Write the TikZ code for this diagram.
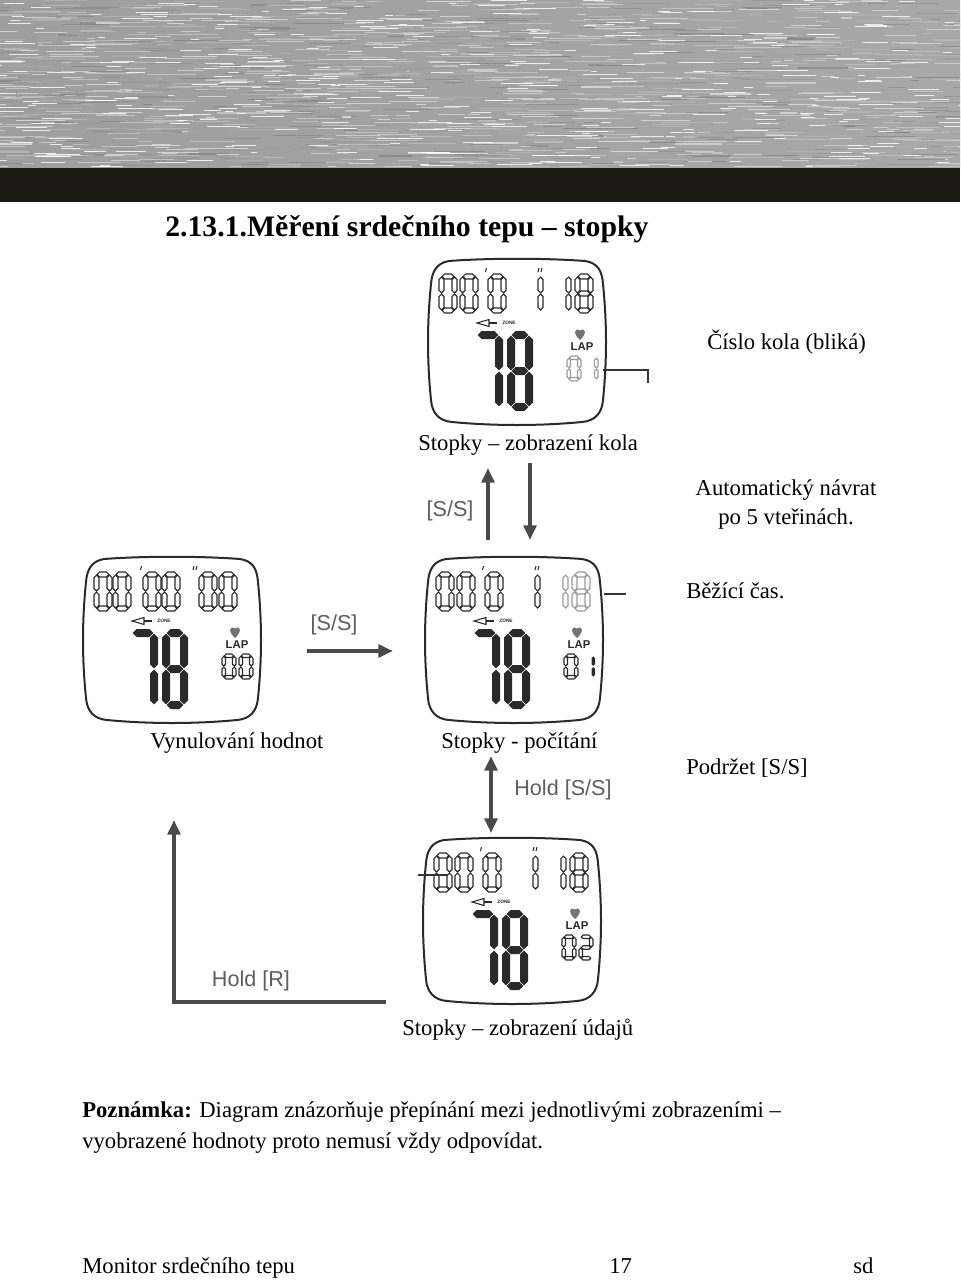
\documentclass[tikz,border=0pt]{standalone}
\usepackage{fontspec}
\setmainfont{Liberation Serif}
\newfontfamily\arialf{Liberation Sans}
\usetikzlibrary{arrows.meta}
\definecolor{arrgray}{HTML}{4A4A4A}
\definecolor{lblgray}{HTML}{5E5E5E}
\definecolor{barblack}{HTML}{1D1915}
\definecolor{lcd}{HTML}{2A2A2A}
\definecolor{lcdlight}{HTML}{9A9A9A}
\definecolor{ptr}{HTML}{333333}

% seven-segment helpers
\newcommand{\hsg}[1]{\path[segst] ({\dA+\dG},{#1}) -- ({2*\dA+\dG},{#1-\dA}) -- ({\dW-2*\dA-\dG},{#1-\dA}) -- ({\dW-\dA-\dG},{#1}) -- ({\dW-2*\dA-\dG},{#1+\dA}) -- ({2*\dA+\dG},{#1+\dA}) -- cycle;}
\newcommand{\vsg}[3]{\path[segst] ({#1},{#2+\dG}) -- ({#1+\dA},{#2+\dA+\dG}) -- ({#1+\dA},{#3-\dA-\dG}) -- ({#1},{#3-\dG}) -- ({#1-\dA},{#3-\dA-\dG}) -- ({#1-\dA},{#2+\dA+\dG}) -- cycle;}
\def\lcdsega{\hsg{\dA}}
\def\lcdsegb{\vsg{\dW-\dA}{\dA}{\dH/2}}
\def\lcdsegc{\vsg{\dW-\dA}{\dH/2}{\dH-\dA}}
\def\lcdsegd{\hsg{\dH-\dA}}
\def\lcdsege{\vsg{\dA}{\dH/2}{\dH-\dA}}
\def\lcdsegf{\vsg{\dA}{\dA}{\dH/2}}
\def\lcdsegg{\hsg{\dH/2}}
\newcommand{\lcddigit}[7]{%
  \begin{scope}[shift={(#1,#2)}]
    \def\dW{#3}\def\dH{#4}\pgfmathsetmacro\dA{#5/2}\def\dG{0.6}%
    \tikzset{segst/.style={#7}}%
    \foreach \s in {#6}{\csname lcdseg\s\endcsname}%
  \end{scope}}

% watch body: x, y, name, extra content
\newcommand{\watch}[4]{%
  \begin{scope}[shift={(#1,#2)}]
    \draw[line width=1.5pt, lcd] (20,2) .. controls (60,-1) and (116,-1) .. (156,2)
      .. controls (169,4) and (173,12) .. (174,25)
      .. controls (178,65) and (178,101) .. (174,141)
      .. controls (173,154) and (166,162) .. (153,163)
      .. controls (111,167) and (65,167) .. (23,163)
      .. controls (10,162) and (3,154) .. (2,141)
      .. controls (-2,101) and (-2,65) .. (2,25)
      .. controls (3,12) and (8,4) .. (20,2) -- cycle;
    \node[inner sep=0, minimum width=130pt, minimum height=122pt] (#3) at (88,83) {};
    \draw[lcd, line width=0.8pt] (48,64) -- (60,60.5) -- (60,67.5) -- cycle;
    \draw[lcd, line width=1.2pt] (60,64) -- (68,64);
    \node[font=\arialf\bfseries\fontsize{3.6}{4}\selectfont, text=lcd, inner sep=0] (#3zone) at (80,64) {ZONE};
    \draw[lcd, line width=0.8pt] (57.5,9) -- (56.5,13);
    \draw[lcd, line width=0.8pt] (110,9) -- (109,13) (113,9) -- (112,13);
    \lcddigit{44}{72}{30}{80}{8}{a,b,c}{segfill}
    \lcddigit{78}{72}{26}{80}{8}{a,b,c,d,e,f,g}{segfill}
    \fill[black!55] (151,81) .. controls (144,75) and (145,68) .. (151,71.5)
      .. controls (157,68) and (158,75) .. (151,81) -- cycle;
    \node[font=\arialf\bfseries\fontsize{8.5}{9}\selectfont, text=lcd, inner sep=0] (#3lap) at (153,88) {LAP};
    #4
  \end{scope}}

\tikzset{
  segout/.style={draw=lcd, fill=white, line width=0.9pt},
  seglight/.style={draw=lcdlight, fill=white, line width=0.9pt},
  segfill/.style={fill=lcd},
  body/.style={anchor=base west, inner sep=0, font=\fontsize{17}{21}\selectfont},
  sanslbl/.style={inner sep=0, text=lblgray, font=\arialf\fontsize{16.2}{19}\selectfont},
  arr/.style={draw=arrgray, line width=3pt, -{Triangle[length=11pt, width=9.5pt]}},
  darr/.style={draw=arrgray, line width=3pt, {Triangle[length=11pt, width=9.5pt]}-{Triangle[length=11pt, width=9.5pt]}},
  ptrline/.style={draw=ptr, line width=0.9pt}
}

\begin{document}
\begin{tikzpicture}[x=0.75pt, y=-0.75pt]
\useasboundingbox (0,0) rectangle (960,1281);
\fill[white] (0,0) rectangle (960,1281);

% header: brushed metal and black bar
\shade[left color=black!38, middle color=black!20, right color=black!34] (0,0) rectangle (960,168);
\begin{scope}
  \clip (0,0) rectangle (960,167);
  \pgfmathsetseed{11}
  \foreach \i in {1,...,1600}{%
    \pgfmathsetmacro\xx{rnd*1000-40}%
    \pgfmathsetmacro\yy{rnd*167}%
    \pgfmathsetmacro\ll{8+rnd*45}%
    \pgfmathsetmacro\cc{12+rnd*36}%
    \draw[black!\cc, line width=0.8pt, opacity=0.85] (\xx,\yy) -- ++(\ll,0);}
  \foreach \i in {1,...,350}{%
    \pgfmathsetmacro\xx{rnd*1000-40}%
    \pgfmathsetmacro\yy{rnd*167}%
    \pgfmathsetmacro\ll{6+rnd*30}%
    \draw[white, line width=0.7pt, opacity=0.8] (\xx,\yy) -- ++(\ll,0);}
\end{scope}
\fill[barblack] (0,168) rectangle (960,202);

% title
\node[anchor=base west, inner sep=0, font=\bfseries\fontsize{22.3}{26}\selectfont] (title) at (165,236) {2.13.1.Měření srdečního tepu – stopky};

% watches
\watch{429}{259}{w1}{%
  \lcddigit{10}{15}{18}{39}{5}{a,b,c,d,e,f}{segout}
  \lcddigit{31}{15}{18}{39}{5}{a,b,c,d,e,f}{segout}
  \lcddigit{59}{15}{18}{39}{5}{a,b,c,d,e,f}{segout}
  \lcddigit{96}{15}{18}{39}{5}{b,c}{segout}
  \lcddigit{124}{15}{18}{39}{5}{b,c}{segout}
  \lcddigit{146}{15}{18}{39}{5}{a,b,c,d,e,f,g}{segout}
  \lcddigit{138}{97}{14}{25}{3.5}{a,b,c,d,e,f}{seglight}
  \lcddigit{155}{97}{14}{25}{3.5}{b,c}{seglight}}
\watch{84}{557}{w2}{%
  \lcddigit{10}{15}{18}{39}{5}{a,b,c,d,e,f}{segout}
  \lcddigit{29}{15}{18}{39}{5}{a,b,c,d,e,f}{segout}
  \lcddigit{59}{15}{18}{39}{5}{a,b,c,d,e,f}{segout}
  \lcddigit{78}{15}{18}{39}{5}{a,b,c,d,e,f}{segout}
  \lcddigit{115}{15}{18}{39}{5}{a,b,c,d,e,f}{segout}
  \lcddigit{135}{15}{18}{39}{5}{a,b,c,d,e,f}{segout}
  \lcddigit{138}{97}{14}{25}{3.5}{a,b,c,d,e,f}{segout}
  \lcddigit{155}{97}{14}{25}{3.5}{a,b,c,d,e,f}{segout}}
\watch{426}{557}{w3}{%
  \lcddigit{10}{15}{18}{39}{5}{a,b,c,d,e,f}{segout}
  \lcddigit{31}{15}{18}{39}{5}{a,b,c,d,e,f}{segout}
  \lcddigit{59}{15}{18}{39}{5}{a,b,c,d,e,f}{segout}
  \lcddigit{96}{15}{18}{39}{5}{b,c}{segout}
  \lcddigit{124}{15}{18}{39}{5}{b,c}{seglight}
  \lcddigit{146}{15}{18}{39}{5}{a,b,c,d,e,f,g}{seglight}
  \lcddigit{138}{97}{14}{25}{3.5}{a,b,c,d,e,f}{segout}
  \lcddigit{155}{97}{14}{25}{3.5}{b,c}{segfill}}
\watch{424}{838}{w4}{%
  \lcddigit{10}{15}{18}{39}{5}{a,b,c,d,e,f}{segout}
  \lcddigit{31}{15}{18}{39}{5}{a,b,c,d,e,f}{segout}
  \lcddigit{59}{15}{18}{39}{5}{a,b,c,d,e,f}{segout}
  \lcddigit{96}{15}{18}{39}{5}{b,c}{segout}
  \lcddigit{124}{15}{18}{39}{5}{b,c}{segout}
  \lcddigit{146}{15}{18}{39}{5}{a,b,c,d,e,f,g}{segout}
  \lcddigit{138}{97}{14}{25}{3.5}{a,b,c,d,e,f}{segout}
  \lcddigit{155}{97}{14}{25}{3.5}{a,b,g,e,d}{segout}}

% labels
\node[body] (cislo) at (707,349) {Číslo kola (bliká)};
\node[body] (lapview) at (418,450) {Stopky – zobrazení kola};
\node[body, anchor=base] (auto1) at (786,495) {Automatický návrat};
\node[body, anchor=base] (auto2) at (786,524) {po 5 vteřinách.};
\node[body] (bezici) at (686,598) {Běžící čas.};
\node[body] (vynul) at (150,748) {Vynulování hodnot};
\node[body] (pocitani) at (441,748) {Stopky - počítání};
\node[body] (podrzet) at (686,774) {Podržet [S/S]};
\node[body] (udaje) at (402,1035) {Stopky – zobrazení údajů};
\node[body] (pozn1) at (82,1117) {\textbf{Poznámka:} Diagram znázorňuje přepínání mezi jednotlivými zobrazeními –};
\node[body] (pozn2) at (82,1148) {vyobrazené hodnoty proto nemusí vždy odpovídat.};
\node[body] (foot1) at (82,1273) {Monitor srdečního tepu};
\node[body] (foot2) at (609,1273) {17};
\node[body] (foot3) at (853,1273) {sd};

% grey key labels
\node[sanslbl] (ss1) at (450,511) {[S/S]};
\node[sanslbl] (ss2) at (334,625) {[S/S]};
\node[sanslbl] (hss) at (563,790) {Hold [S/S]};
\node[sanslbl] (hr) at (251,981) {Hold [R]};

% arrow end points
\coordinate (up1) at (488,540);
\coordinate (up2) at (488,468);
\coordinate (dn1) at (530,463);
\coordinate (dn2) at (530,540);
\coordinate (hz1) at (307,651);
\coordinate (hz2) at (393,651);
\coordinate (db1) at (491,756);
\coordinate (db2) at (491,833);
\coordinate (l1) at (384,1002);
\coordinate (l2) at (174,1002);
\coordinate (l3) at (174,820);

\draw[arr] (up1) -- (up2);
\draw[arr] (dn1) -- (dn2);
\draw[arr] (hz1) -- (hz2);
\draw[darr] (db1) -- (db2);
\draw[arr, line cap=rect] (l1) -- (l2) -- (l3);

% pointer lines
\coordinate (p1a) at (603,370);
\coordinate (p1b) at (648,370);
\coordinate (p1c) at (648,383);
\draw[ptrline] (p1a) -- (p1b) -- (p1c);
\coordinate (p3a) at (604,594);
\coordinate (p3b) at (626,594);
\draw[ptrline] (p3a) -- (p3b);
\coordinate (p4a) at (418,875);
\coordinate (p4b) at (448,875);
\draw[ptrline] (p4a) -- (p4b);
\end{tikzpicture}
\end{document}
